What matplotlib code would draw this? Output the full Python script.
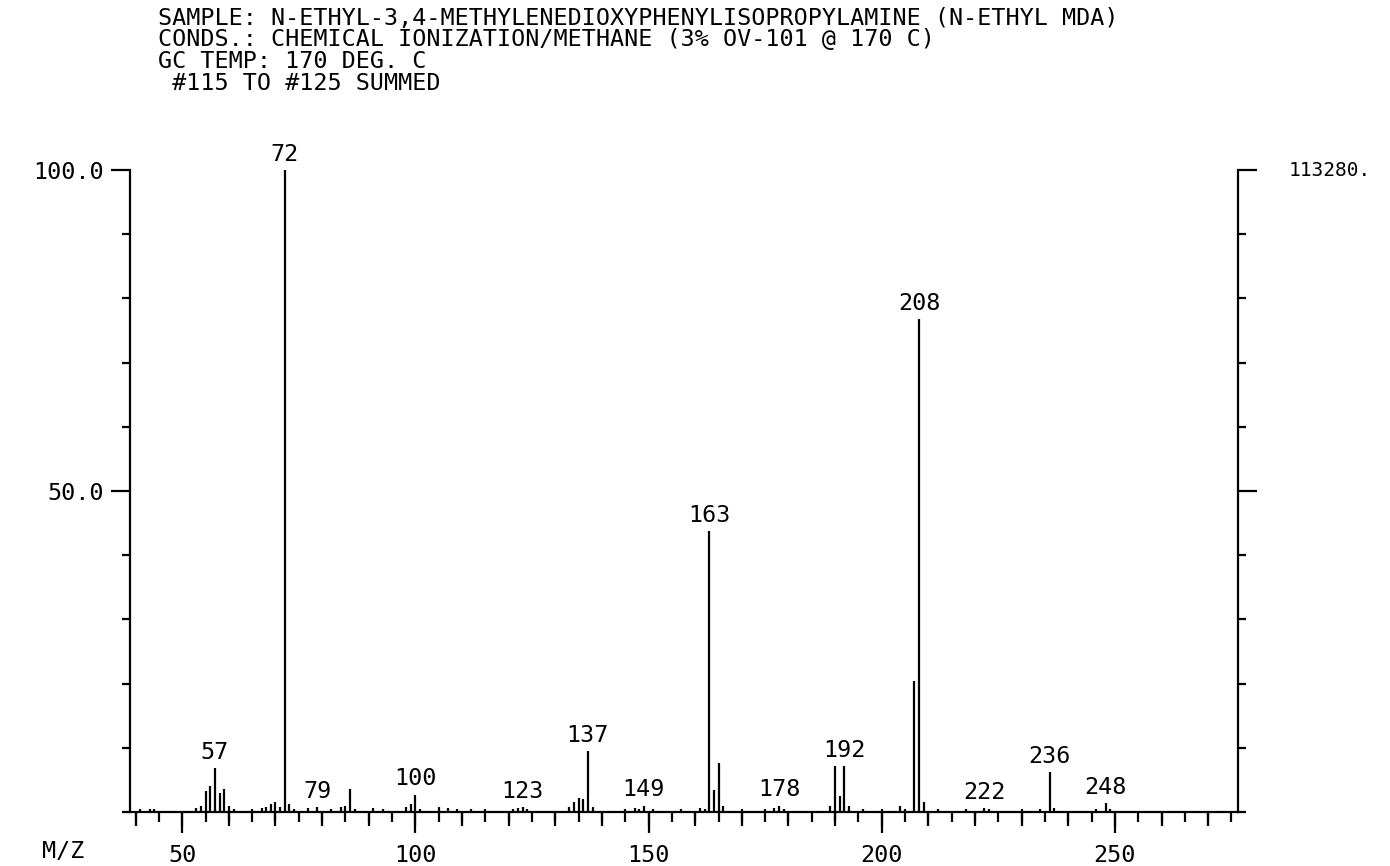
import matplotlib
matplotlib.use("Agg")
import matplotlib.pyplot as plt
from matplotlib.ticker import MultipleLocator, FixedLocator, NullFormatter

# ---- data (m/z, relative abundance %) ----
mz = [41, 43, 44, 53, 54, 55, 56, 57, 58, 59, 60, 61, 65, 67, 68, 69, 70, 71, 72, 73,
      74, 77, 79, 82, 84, 85, 86, 87, 91, 93, 98, 99, 100, 101, 105, 107, 109, 112, 115,
      121, 122, 123, 124, 133, 134, 135, 136, 137, 138, 145, 147, 148, 149, 151, 157,
      161, 162, 163, 164, 165, 166, 170, 175, 177, 178, 179, 189, 190, 191, 192, 193,
      196, 200, 204, 205, 207, 208, 209, 212, 218, 222, 223, 230, 234, 236, 237, 246,
      248, 249]
intensity = [0.5, 0.5, 0.4, 0.6, 1.0, 3.2, 4.0, 6.9, 3.0, 3.6, 1.0, 0.5, 0.5, 0.6, 0.8,
             1.2, 1.5, 0.8, 100.0, 1.2, 0.4, 0.6, 0.8, 0.5, 0.8, 1.0, 3.6, 0.5, 0.6, 0.4,
             0.8, 1.2, 2.7, 0.5, 0.8, 0.6, 0.5, 0.4, 0.4, 0.5, 0.6, 0.8, 0.4, 0.8, 1.5,
             2.2, 2.0, 9.5, 0.8, 0.4, 0.6, 0.5, 1.0, 0.4, 0.5, 0.6, 0.4, 43.8, 3.5, 7.6,
             1.0, 0.4, 0.5, 0.6, 1.0, 0.5, 1.0, 7.2, 2.5, 7.2, 1.0, 0.4, 0.4, 1.0, 0.5,
             20.4, 76.8, 1.5, 0.4, 0.5, 0.6, 0.4, 0.4, 0.5, 6.2, 0.6, 0.5, 1.4, 0.4]

label_mz = [57, 72, 79, 100, 123, 137, 149, 163, 178, 192, 208, 222, 236, 248]

header_lines = [
    "SAMPLE: N-ETHYL-3,4-METHYLENEDIOXYPHENYLISOPROPYLAMINE (N-ETHYL MDA)",
    "CONDS.: CHEMICAL IONIZATION/METHANE (3% OV-101 @ 170 C)",
    "GC TEMP: 170 DEG. C",
    " #115 TO #125 SUMMED",
]
x_major = [50, 100, 150, 200, 250]
y_labels = [50.0, 100.0]
base_peak_count = "113280."

FONT = "DejaVu Sans Mono"
FS = 16.8

W, H = 1390, 866
fig = plt.figure(figsize=(W / 100, H / 100), dpi=100)
fig.patch.set_facecolor("white")

ax = fig.add_axes([130 / W, (H - 812) / H, (1238 - 130) / W, (812 - 170) / H])
ax.set_xlim(38.8, 276.4)
ax.set_ylim(0, 100)

ax.vlines(mz, 0, intensity, colors="black", linewidth=1.6)

lookup = dict(zip(mz, intensity))
for m in label_mz:
    ax.annotate(str(m), xy=(m, lookup[m]), xytext=(0, 3), textcoords="offset points",
                ha="center", va="bottom", fontsize=FS, family=FONT, color="black")

# spines
ax.spines["top"].set_visible(False)
for s in ["left", "right", "bottom"]:
    ax.spines[s].set_linewidth(1.6)
    ax.spines[s].set_color("black")

# y axis ticks (left and right, outward)
ax.yaxis.set_major_locator(FixedLocator(y_labels))
ax.yaxis.set_minor_locator(MultipleLocator(10))
ax.yaxis.set_major_formatter(plt.FuncFormatter(lambda v, p: f"{v:.1f}"))
ax.tick_params(axis="y", which="both", left=True, right=True, direction="out",
               width=1.6, labelright=False)
ax.tick_params(axis="y", which="major", length=14, pad=5, labelsize=FS)
ax.tick_params(axis="y", which="minor", length=6)
for lab in ax.get_yticklabels():
    lab.set_family(FONT)

# x axis ticks
ax.xaxis.set_major_locator(FixedLocator(x_major))
ax.xaxis.set_minor_locator(MultipleLocator(5))
ax.tick_params(axis="x", which="major", direction="out", length=15, width=1.6,
               pad=8, labelsize=FS)
ax.tick_params(axis="x", which="minor", direction="out", length=7, width=1.6)
for lab in ax.get_xticklabels():
    lab.set_family(FONT)

sec = ax.secondary_xaxis("bottom")
sec.set_xticks(list(range(40, 280, 10)))
sec.xaxis.set_major_formatter(NullFormatter())
sec.tick_params(axis="x", direction="out", length=10, width=1.6)
sec.spines["bottom"].set_visible(False)

# texts
for i, line in enumerate(header_lines):
    fig.text(158 / W, 1 - (18 + 22 * i) / H, line, ha="left", va="center",
             fontsize=FS, family=FONT, color="black")

fig.text(1289 / W, 1 - 170 / H, base_peak_count, ha="left", va="center",
         fontsize=14, family=FONT, color="black")
fig.text(42 / W, 1 - 852 / H, "M/Z", ha="left", va="center",
         fontsize=FS, family=FONT, color="black")

fig.savefig("out.png", dpi=100, facecolor="white")
